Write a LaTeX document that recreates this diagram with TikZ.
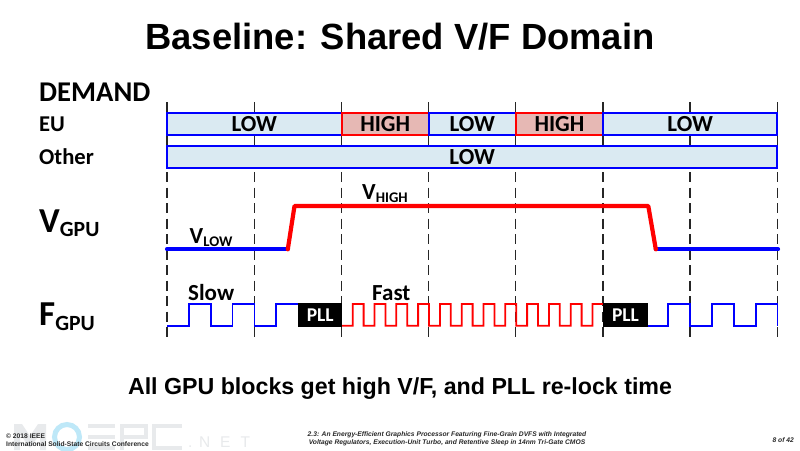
\documentclass[tikz,border=0pt]{standalone}
\usepackage{fontspec}
\setmainfont{Carlito}
\newfontfamily\arialf{Liberation Sans}
\definecolor{lowfill}{RGB}{218,234,242}
\definecolor{highfill}{RGB}{230,184,180}
\definecolor{wmgray}{RGB}{232,234,236}
\definecolor{wmblue}{RGB}{190,232,248}
\definecolor{foot}{RGB}{40,40,40}
\tikzset{
  lowbar/.style={draw=blue,line width=2pt,fill=lowfill,inner sep=0pt,outer sep=0pt},
  highbar/.style={draw=red,line width=2pt,fill=highfill,inner sep=0pt,outer sep=0pt},
  barlabel/.style={font=\bfseries\fontsize{23}{23}\selectfont,text=black,inner sep=0pt,anchor=center},
  rowlabel/.style={font=\bfseries\fontsize{22.6}{22.6}\selectfont,anchor=west,inner sep=0pt},
  siglabel/.style={font=\bfseries\fontsize{23}{23}\selectfont,anchor=base west,inner sep=0pt},
  biglabel/.style={font=\bfseries\fontsize{35}{35}\selectfont,anchor=base west,inner sep=0pt},
  volt/.style={line width=4.2pt,line cap=round,line join=round},
  clock/.style={line width=1.8pt,line join=miter},
  gridsolid/.style={line width=1.1pt,black!85},
  griddash/.style={line width=1.1pt,black!85,dash pattern=on 10pt off 5.5pt},
  pll/.style={fill=black,text=white,font=\bfseries\fontsize{19.5}{19.5}\selectfont,inner sep=0pt,outer sep=0pt,anchor=center},
  footl/.style={font=\arialf\bfseries\fontsize{6.7}{8}\selectfont,text=foot,inner sep=0pt},
  footi/.style={font=\arialf\bfseries\itshape\fontsize{6.7}{8}\selectfont,text=foot,inner sep=0pt}
}
\newcommand{\sbs}[1]{\raisebox{-0.14em}{\scalebox{0.64}{#1}}}
\newcommand{\sbg}[1]{\raisebox{-0.14em}{\scalebox{0.62}{#1}}}
\begin{document}
\begin{tikzpicture}[x=1pt,y=-1pt]
\useasboundingbox (0,0) rectangle (800,450);
\fill[white] (0,0) rectangle (800,450);
% watermark
\begin{scope}[wmgray]
\fill (14,450) -- (14,424) -- (22,424) -- (30,436) -- (38,424) -- (46,424) -- (46,450) -- (40,450) -- (40,434) -- (30,448) -- (20,434) -- (20,450) -- cycle;
\fill (88,424) rectangle (115,428); \fill (88,435) rectangle (115,439); \fill (88,446) rectangle (115,450);
\fill (120,424) rectangle (148,428); \fill (120,424) rectangle (124,450); \fill (120,435) rectangle (148,439); \fill (144,424) rectangle (148,439);
\fill (152,424) rectangle (182,428); \fill (152,424) rectangle (156,450); \fill (152,446) rectangle (182,450);
\end{scope}
\draw[wmblue,line width=5pt] (67,437) circle (12.5);
\node[font=\arialf\fontsize{15.5}{15.5}\selectfont,text=wmgray,anchor=base west,inner sep=0pt] (wmnet) at (188,447.5) {.\hspace*{6.5pt}N\hspace*{10pt}E\hspace*{10pt}T};
% title
\node[font=\arialf\bfseries\fontsize{36.4}{36.4}\selectfont,inner sep=0pt] (title) at (400,36.5) {Baseline: Shared V/F Domain};
% labels
\node[rowlabel,font=\bfseries\fontsize{28.6}{28.6}\selectfont] (demand) at (39,92) {DEMAND};
\node[rowlabel] (eu) at (39,124) {EU};
\node[rowlabel] (other) at (39,157) {Other};
\node[biglabel] (vgpu) at (39,232) {V\sbg{GPU}};
\node[biglabel] (fgpu) at (39,325.5) {F\sbg{GPU}};
% grid
\foreach \x in {167,254.3,341.6,428.8,515.8,603,690,777.3}{
  \draw[griddash] (\x,172) -- (\x,338);
  \draw[gridsolid] (\x,102) -- (\x,146);
}
% bars
\node[lowbar,minimum width=174.6pt,minimum height=22pt,anchor=north west] (b1) at (167,113.3) {};
\node[highbar,minimum width=87.2pt,minimum height=22pt,anchor=north west] (b2) at (341.6,113.3) {};
\node[lowbar,minimum width=87pt,minimum height=22pt,anchor=north west] (b3) at (428.8,113.3) {};
\node[highbar,minimum width=87.2pt,minimum height=22pt,anchor=north west] (b4) at (515.8,113.3) {};
\node[lowbar,minimum width=174.3pt,minimum height=22pt,anchor=north west] (b5) at (603,113.3) {};
\node[lowbar,minimum width=610.3pt,minimum height=21.5pt,anchor=north west] (b6) at (167,146.3) {};
\node[barlabel] at (b1) {LOW};
\node[barlabel] at (b2) {HIGH};
\node[barlabel] at (b3) {LOW};
\node[barlabel] at (b4) {HIGH};
\node[barlabel] at (b5) {LOW};
\node[barlabel] at (b6) {LOW};
% voltage
\coordinate (v0) at (167,249.3);
\coordinate (v1) at (287.8,249.3);
\coordinate (v2) at (294.5,206);
\coordinate (v3) at (648.3,206);
\coordinate (v4) at (655.8,249.3);
\coordinate (v5) at (778,249.3);
\draw[volt,blue] (v0) -- (v1);
\draw[volt,blue] (v4) -- (v5);
\draw[volt,red] (v1) -- (v2) -- (v3) -- (v4);
\node[siglabel] (vlow) at (189.5,243) {V\sbs{LOW}};
\node[siglabel] (vhigh) at (362,199.5) {V\sbs{HIGH}};
% clock
\draw[clock,blue] (167,325.7) -| (189,304) -| (211,325.7) -| (232.5,304) -| (254.5,325.7) -| (276,304) -- (298,304);
\draw[clock,red] (342,325.7) -- (352.7,325.7)
  \foreach \k in {0,...,10}{ |- ({352.7+21.8*\k+10.9},304) |- ({352.7+21.8*\k+10.9},325.7) -- ({352.7+21.8*\k+21.8},325.7) }
  -- (592.5,304) -- (603,304);
\draw[clock,blue] (648,325.7) -| (668,304) -| (690.3,325.7) -| (712,304) -| (734,325.7) -| (755.7,304) -| (777.5,325.7);
\node[pll,minimum width=44.5pt,minimum height=24pt] (pll1) at (320.2,315) {PLL};
\node[pll,minimum width=45pt,minimum height=24pt] (pll2) at (625.5,315) {PLL};
\node[siglabel] (slow) at (188,300) {Slow};
\node[siglabel] (fast) at (372,300) {Fast};
% caption
\node[font=\arialf\bfseries\fontsize{23.2}{23.2}\selectfont,inner sep=0pt] (cap) at (400,389) {All GPU blocks get high V/F, and PLL re-lock time};
% footer
\node[footl,anchor=north west,align=left] (f1) at (6,433.5) {© 2018 IEEE\\International Solid-State Circuits Conference};
\node[footi,anchor=north,align=center] (f2) at (447,431.5) {2.3: An Energy-Efficient Graphics Processor Featuring Fine-Grain DVFS with Integrated\\Voltage Regulators, Execution-Unit Turbo, and Retentive Sleep in 14nm Tri-Gate CMOS};
\node[footi,anchor=east] (f3) at (794,440) {8 of 42};
\end{tikzpicture}
\end{document}
